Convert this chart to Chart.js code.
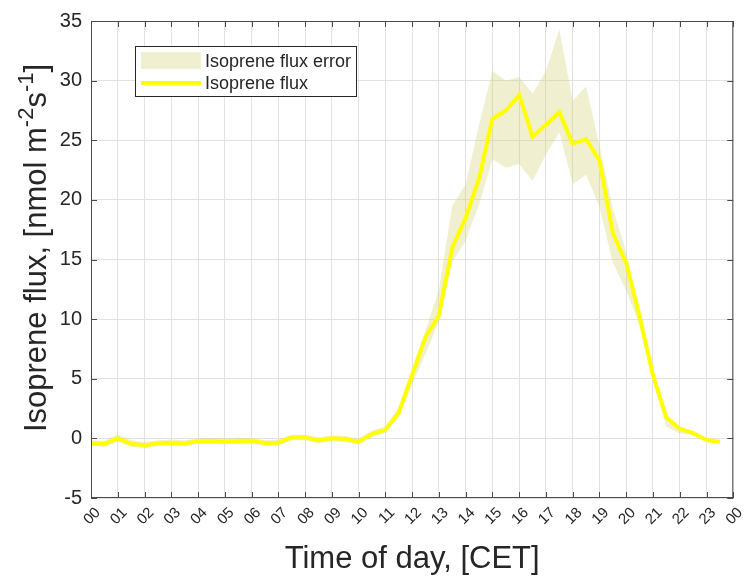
<!DOCTYPE html>
<html>
<head>
<meta charset="utf-8">
<script src="https://cdn.jsdelivr.net/npm/chart.js@4.4.1/dist/chart.umd.min.js"></script>
<style>
  html, body { margin: 0; padding: 0; background: #fff; }
  #wrap { width: 752px; height: 579px; }
</style>
</head>
<body>
<div id="wrap"><canvas id="chart" width="752" height="579"></canvas></div>
<script>
// time of day in hours (half-hourly)
const hours = [0, 0.5, 1, 1.5, 2, 2.5, 3, 3.5, 4, 4.5, 5, 5.5, 6, 6.5, 7, 7.5,
  8, 8.5, 9, 9.5, 10, 10.5, 11, 11.5, 12, 12.5, 13, 13.5, 14, 14.5, 15, 15.5,
  16, 16.5, 17, 17.5, 18, 18.5, 19, 19.5, 20, 20.5, 21, 21.5, 22, 22.5, 23, 23.5];

// isoprene flux, nmol m-2 s-1
const flux = [-0.40, -0.48, 0.00, -0.45, -0.58, -0.42, -0.37, -0.42, -0.25, -0.22, -0.28, -0.22, -0.20, -0.39, -0.36, 0.08,
  0.08, -0.17, 0.00, -0.06, -0.28, 0.36, 0.72, 2.15, 5.3, 8.5, 10.3, 16.0, 18.5, 21.8, 26.8, 27.5,
  28.8, 25.3, 26.3, 27.35, 24.7, 25.1, 23.3, 17.2, 14.7, 10.2, 5.3, 1.75, 0.8, 0.45, -0.14, -0.28];

// error band, upper and lower edge
const fluxUpper = [-0.15, -0.2, 0.35, -0.15, -0.3, -0.15, -0.1, -0.15, 0.0, 0.05, 0.0, 0.05, 0.05, -0.15, -0.1, 0.3,
  0.3, 0.08, 0.25, 0.2, 0.0, 0.65, 1.0, 2.6, 5.9, 9.0, 12.5, 19.5, 21.3, 26.3, 30.8, 30.0,
  30.3, 28.9, 30.8, 34.3, 28.3, 29.5, 24.6, 19.3, 15.6, 10.6, 5.8, 2.0, 1.0, 0.6, 0.0, -0.18];
const fluxLower = [-0.6, -0.7, -0.25, -0.7, -0.8, -0.65, -0.6, -0.65, -0.45, -0.45, -0.5, -0.45, -0.45, -0.6, -0.6, -0.15,
  -0.15, -0.4, -0.25, -0.3, -0.5, 0.1, 0.45, 1.8, 4.5, 7.1, 9.8, 14.8, 16.6, 19.6, 23.4, 22.7,
  23.0, 21.6, 23.8, 25.7, 21.3, 22.1, 19.4, 14.7, 12.4, 9.5, 4.8, 1.0, 0.4, 0.3, -0.25, -0.35];

const yTicks = [-5, 0, 5, 10, 15, 20, 25, 30, 35];

const TXT = '#262626';
const BAND = 'rgba(205, 205, 98, 0.3)';
const FONT = 'Liberation Sans, Arial, Helvetica, sans-serif';

const pts = arr => hours.map((h, i) => ({ x: h, y: arr[i] }));

// box round the axes with ticks pointing inwards, like matlab
const boxPlugin = {
  id: 'box',
  afterDatasetsDraw(chart) {
    const { ctx, chartArea: a, scales } = chart;
    ctx.save();
    ctx.strokeStyle = '#4a4a4a';
    ctx.lineWidth = 1;
    ctx.strokeRect(a.left + 0.5, a.top + 0.5, a.right - a.left - 1, a.bottom - a.top - 1);
    ctx.beginPath();
    scales.x.ticks.forEach(t => {
      const px = Math.round(scales.x.getPixelForValue(t.value)) + 0.5;
      ctx.moveTo(px, a.bottom); ctx.lineTo(px, a.bottom - 6);
      ctx.moveTo(px, a.top); ctx.lineTo(px, a.top + 6);
    });
    scales.y.ticks.forEach(t => {
      const py = Math.round(scales.y.getPixelForValue(t.value)) + 0.5;
      ctx.moveTo(a.left, py); ctx.lineTo(a.left + 6, py);
      ctx.moveTo(a.right, py); ctx.lineTo(a.right - 6, py);
    });
    ctx.stroke();
    ctx.restore();
  },
  afterDraw(chart) {
    const { ctx } = chart;
    ctx.save();
    // legend
    const lx = 135.5, ly = 46.5, lw = 221, lh = 50;
    ctx.fillStyle = '#fff';
    ctx.fillRect(lx, ly, lw, lh);
    ctx.strokeStyle = '#262626';
    ctx.lineWidth = 1;
    ctx.strokeRect(lx, ly, lw, lh);
    ctx.fillStyle = BAND;
    ctx.fillRect(141, 52, 60, 17);
    ctx.strokeStyle = '#ffff00';
    ctx.lineWidth = 4;
    ctx.beginPath(); ctx.moveTo(141, 83); ctx.lineTo(201, 83); ctx.stroke();
    ctx.fillStyle = TXT;
    ctx.font = '18px ' + FONT;
    ctx.textBaseline = 'middle';
    ctx.fillText('Isoprene flux error', 205, 62);
    ctx.fillText('Isoprene flux', 205, 84);

    // y axis title with superscripts
    const parts = [
      ['Isoprene flux, [nmol m', false], ['-2', true], ['s', false], ['-1', true], [']', false]
    ];
    const big = '31px ' + FONT, small = '22px ' + FONT;
    let total = 0;
    parts.forEach(p => { ctx.font = p[1] ? small : big; total += ctx.measureText(p[0]).width; });
    ctx.translate(36, 248);
    ctx.rotate(-Math.PI / 2);
    ctx.textBaseline = 'alphabetic';
    ctx.textAlign = 'left';
    let x = -total / 2;
    parts.forEach(p => {
      ctx.font = p[1] ? small : big;
      ctx.fillText(p[0], x, p[1] ? -3 : 10);
      x += ctx.measureText(p[0]).width;
    });
    ctx.restore();
  }
};

new Chart(document.getElementById('chart').getContext('2d'), {
  type: 'line',
  data: {
    datasets: [
      {
        label: 'Isoprene flux',
        data: pts(flux),
        borderColor: '#ffff00',
        borderWidth: 4,
        pointRadius: 0,
        fill: false,
        order: 0
      },
      {
        label: 'Isoprene flux error',
        data: pts(fluxUpper),
        borderWidth: 0,
        borderColor: 'transparent',
        backgroundColor: BAND,
        pointRadius: 0,
        fill: '+1',
        order: 1
      },
      {
        label: 'lower',
        data: pts(fluxLower),
        borderWidth: 0,
        borderColor: 'transparent',
        pointRadius: 0,
        fill: false,
        order: 2
      }
    ]
  },
  options: {
    responsive: false,
    animation: false,
    layout: { padding: { left: 0, top: 20, right: 14, bottom: 0 } },
    plugins: {
      legend: { display: false },
      tooltip: { enabled: false }
    },
    scales: {
      x: {
        type: 'linear',
        min: 0,
        max: 24,
        afterFit(scale) { scale.height = 81; },
        grid: { color: '#e2e2e2', drawTicks: false },
        border: { display: false },
        ticks: {
          stepSize: 1,
          autoSkip: false,
          maxRotation: 45,
          minRotation: 45,
          padding: 6,
          labelOffset: 7,
          color: TXT,
          font: { family: FONT, size: 15 },
          callback: v => String(v % 24).padStart(2, '0')
        },
        title: {
          display: true,
          text: 'Time of day, [CET]',
          color: TXT,
          font: { family: FONT, size: 31 },
          padding: { top: 0, bottom: 1 }
        }
      },
      y: {
        min: -5,
        max: 35,
        afterFit(scale) { scale.width = 91; },
        afterBuildTicks(scale) { scale.ticks = yTicks.map(v => ({ value: v })); },
        grid: { color: '#e2e2e2', drawTicks: false },
        border: { display: false },
        ticks: {
          padding: 9,
          color: TXT,
          font: { family: FONT, size: 20 }
        }
      }
    }
  },
  plugins: [boxPlugin]
});
</script>
</body>
</html>
